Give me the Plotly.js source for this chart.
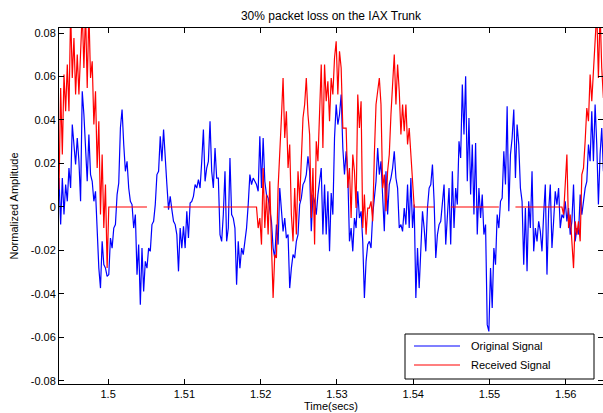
<!DOCTYPE html>
<html>
<head>
<meta charset="utf-8">
<script src="https://cdn.plot.ly/plotly-3.0.1.min.js"></script>
<style>html,body{margin:0;padding:0;background:#fff;}#chart{width:603px;height:413px;}</style>
</head>
<body>
<div id="chart"></div>
<script>
// ---- Data ----
const titleText = "30% packet loss on the IAX Trunk";
const xTitle = "Time(secs)";
const yTitle = "Normalized Amplitude";
const seriesNames = ["Original Signal", "Received Signal"];

// sampling grid of the traces (seconds)
const tStart = 1.49356;
const tStep = 0.0002176;

// Original signal samples
const original = [
  0.0133,-0.0081,0.0133,-0.0035,0.0103,0.0026,0.0179,0.0087,0.0379,0.0271,
  0.0195,0.0317,0.0210,0.0026,0.0532,0.0425,0.0287,0.0118,0.0333,0.0149,
  0.0118,0.0026,0.0072,-0.0097,-0.0281,-0.0373,-0.0158,-0.0265,-0.0281,-0.0319,
  -0.0311,-0.0143,-0.0189,-0.0097,-0.0081,0.0057,0.0110,0.0363,0.0448,0.0287,
  0.0164,0.0210,0.0087,0.0026,0.0011,-0.0097,
  -0.0035,-0.0311,-0.0173,-0.0449,-0.0189,-0.0388,-0.0250,-0.0281,-0.0189,-0.0204,
  -0.0081,-0.0066,0.0011,0.0149,0.0164,0.0325,0.0210,0.0356,0.0210,0.0103,
  -0.0012,0.0049,-0.0012,-0.0066,-0.0081,-0.0127,-0.0296,-0.0097,-0.0189,-0.0089,
  -0.0189,-0.0020,-0.0143,0.0018,0.0026,0.0049,0.0103,0.0087,0.0126,0.0087,
  0.0210,0.0356,0.0118,0.0179,0.0210,0.0394,0.0164,
  0.0087,0.0271,0.0133,0.0133,-0.0127,-0.0158,-0.0035,0.0164,-0.0158,-0.0097,
  0.0225,-0.0035,-0.0051,-0.0097,-0.0357,-0.0158,-0.0281,-0.0189,-0.0219,-0.0158,
  -0.0097,0.0011,0.0149,0.0103,0.0133,0.0118,0.0103,0.0072,0.0325,0.0087,
  0.0317,0.0118,0.0057,0.0041,-0.0005,-0.0066,-0.0189,-0.0235,-0.0081,-0.0173,
  0.0087,-0.0035,-0.0112,-0.0051,-0.0143,-0.0127,-0.0373,
  -0.0281,-0.0219,-0.0235,-0.0158,-0.0127,0.0011,0.0041,0.0103,0.0118,0.0149,
  0.0233,0.0164,-0.0112,0.0057,0.0026,-0.0035,0.0057,0.0133,0.0179,-0.0127,
  0.0103,-0.0127,0.0072,-0.0204,0.0064,-0.0035,0.0317,0.0471,0.0379,0.0425,
  0.0517,0.0271,0.0149,0.0256,0.0149,-0.0158,-0.0097,-0.0204,-0.0051,-0.0097,
  0.0072,-0.0051,-0.0020,-0.0158,-0.0418,-0.0250,-0.0173,
  -0.0158,-0.0189,-0.0035,0.0041,0.0118,0.0271,0.0149,0.0210,0.0057,-0.0112,
  0.0164,-0.0035,0.0103,0.0133,0.0179,0.0256,0.0133,0.0087,-0.0097,-0.0081,
  -0.0112,-0.0005,-0.0081,0.0103,-0.0097,0.0133,-0.0097,0.0011,-0.0418,-0.0189,
  -0.0373,-0.0189,-0.0020,-0.0097,-0.0204,-0.0005,0.0087,0.0103,0.0195,0.0026,
  -0.0235,-0.0127,-0.0081,-0.0066,0.0011,0.0103,-0.0173,
  -0.0035,0.0087,-0.0173,0.0164,-0.0097,0.0087,0.0011,0.0302,0.0225,0.0563,
  0.0333,0.0601,0.0118,0.0409,0.0057,0.0287,-0.0035,0.0294,-0.0127,0.0087,
  -0.0051,0.0057,-0.0127,-0.0081,-0.0541,-0.0572,-0.0281,-0.0464,-0.0189,-0.0265,
  -0.0035,-0.0097,0.0026,0.0041,0.0256,0.0103,0.0463,-0.0020,0.0241,0.0317,
  0.0448,0.0133,0.0379,0.0287,0.0087,0.0026,-0.0265,
  -0.0005,-0.0296,0.0026,-0.0097,0.0164,-0.0204,-0.0097,-0.0158,-0.0066,-0.0112,
  -0.0204,-0.0035,0.0103,-0.0311,-0.0020,0.0103,-0.0189,-0.0066,0.0072,0.0011,
  0.0087,-0.0097,-0.0035,-0.0051,0.0026,-0.0066,-0.0005,-0.0127,-0.0066,0.0103,
  -0.0158,-0.0097,-0.0127,0.0057,-0.0035,0.0026,0.0087,0.0118,0.0287,0.0210,
  0.0440,0.0210,0.0471,0.0287,0.0011,0.0241,0.0363,0.0164
];

// Received signal samples (null = no sample drawn)
const received = [
  0.0080,0.0547,0.0241,0.0609,0.0440,0.0655,0.0440,0.0900,0.0593,0.0777,
  0.0517,0.0701,0.0517,0.0777,0.0900,0.0639,0.0900,0.0547,0.0900,0.0593,
  0.0670,0.0379,0.0532,0.0179,0.0394,-0.0035,0.0241,-0.0097,0.0103,-0.0281,
  0,0,0,0,0,0,0,0,0,0, 0,0,0,0,0,0,0,0,0,0, 0,0,0,0,
  null,null,null,null,null,null,null,null,null,
  0,0,0,0,0,0,0,0,0,0, 0,0,0,0,0,0,0,0,0,0, 0,0,0,0,0,0,0,0,0,0,
  0,0,0,0,0,0,0,0,0,0, 0,0,0,0,0,0,0,0,0,0, 0,0,0,0,0,0,
  0,-0.0097,-0.0051,-0.0173,0.0179,-0.0097,0.0057,-0.0127,0.0118,-0.0173,
  -0.0418,-0.0219,-0.0235,0.0087,0.0287,0.0409,0.0593,0.0317,0.0440,0.0179,0.0287,
  -0.0035,-0.0158,0.0087,-0.0127,0.0164,0.0026,0.0241,0.0409,0.0471,0.0593,
  0.0425,0.0333,-0.0051,0.0179,-0.0173,0.0302,0.0210,0.0440,0.0655,0.0271,
  0.0655,0.0486,0.0578,0.0394,0.0593,0.0517,0.0685,0.0762,0.0517,0.0716,
  0.0639,0.0363,0.0363,0.0363,0.0087,0.0179,-0.0051,0.0241,0.0164,-0.0005,
  0.0517,0.0363,0.0486,-0.0097,0.0057,-0.0127,-0.0005,
  -0.0005,0.0026,-0.0066,0.0241,0.0471,0.0532,0.0593,0.0471,0.0087,0.0149,
  -0.0020,0.0164,0.0241,0.0425,0.0593,0.0701,0.0471,0.0655,0.0532,0.0333,
  0.0471,0.0348,0.0471,0.0287,0.0363,0.0225,0.0133,
  0,0,0,0,0,0,0,0,0,0, 0,0,0,
  null,null,null,null,null,null,null,null,null,
  0,0,0,0,0,0,0,0,0,0, 0,0,0,0,0,0,0,0,0,0, 0,0,0,0,0,0,0,0,0,0,
  null,null,null,null,null,null,null,null,null,
  0,0,0,0,0,0,0,0,0,0, 0,0,0,0,0,0,0,0,0,0, 0,0,0,0,0,0,0,0,0,
  -0.0035,0.0133,0.0241,-0.0097,-0.0035,-0.0158,-0.0281,-0.0066,-0.0127,-0.0066,
  -0.0158,0.0149,0.0179,0.0302,0.0455,0.0394,0.0609,0.0486,0.0655,0.0777,
  0.0900,0.0593,0.0900,0.0639,0.0501
];

// Axes
const xTickVals = [1.5, 1.51, 1.52, 1.53, 1.54, 1.55, 1.56];
const xTickText = ["1.5", "1.51", "1.52", "1.53", "1.54", "1.55", "1.56"];
const yTickVals = [-0.08, -0.06, -0.04, -0.02, 0, 0.02, 0.04, 0.06, 0.08];
const yTickText = ["-0.08", "-0.06", "-0.04", "-0.02", "0", "0.02", "0.04", "0.06", "0.08"];
const xRange = [1.49356, 1.56488];
const yRange = [-0.0814, 0.0823];

// ---- Layout helpers (pixel -> paper) ----
const W = 603, H = 413, ML = 59, MR = 0, MT = 28, MB = 29;
const PW = W - ML - MR, PH = H - MT - MB;
const px = v => (v - ML) / PW;
const py = v => (H - MB - v) / PH;

const colors = ["#0000ff", "#ff0000"];
const FONT = 'Arial, "Liberation Sans", Helvetica, sans-serif';

const traces = [
  {type: "scatter", mode: "lines", name: seriesNames[0], x0: tStart, dx: tStep, y: original,
   line: {color: colors[0], width: 1.2}, connectgaps: false, hoverinfo: "skip"},
  {type: "scatter", mode: "lines", name: seriesNames[1], x0: tStart, dx: tStep, y: received,
   line: {color: colors[1], width: 1.2}, connectgaps: false, hoverinfo: "skip"}
];

// legend drawn as a MATLAB-style box
const legBox = {x0: 405, x1: 594, y0: 334, y1: 379};
const legRows = [346, 365];
const shapes = [
  {type: "rect", xref: "paper", yref: "paper", x0: px(legBox.x0), x1: px(legBox.x1),
   y0: py(legBox.y1), y1: py(legBox.y0), line: {color: "#000", width: 1}, fillcolor: "#fff", layer: "above"}
];
const annotations = [];
seriesNames.forEach((n, i) => {
  shapes.push({type: "line", xref: "paper", yref: "paper", x0: px(414), x1: px(460),
    y0: py(legRows[i]), y1: py(legRows[i]), line: {color: colors[i], width: 1.2}, layer: "above"});
  annotations.push({xref: "paper", yref: "paper", x: px(469), y: py(legRows[i]), xanchor: "left", yanchor: "middle",
    text: n, showarrow: false, font: {family: FONT, size: 11, color: "#000"}});
});

const axisCommon = {
  ticks: "inside", ticklen: 5, tickwidth: 1, tickcolor: "#000",
  showline: true, linecolor: "#000", linewidth: 1, mirror: "ticks",
  showgrid: false, zeroline: false, automargin: false,
  tickfont: {family: FONT, size: 11, color: "#000"}
};

const layout = {
  width: W, height: H,
  margin: {l: ML, r: MR, t: MT, b: MB, pad: 0},
  paper_bgcolor: "#fff", plot_bgcolor: "#fff",
  font: {family: FONT, size: 11, color: "#000"},
  showlegend: false,
  title: {text: titleText, x: 0.5, xref: "paper", xanchor: "center", y: 1 - 16 / H, yref: "container", yanchor: "middle",
          font: {family: FONT, size: 12, color: "#000"}},
  xaxis: Object.assign({}, axisCommon, {range: xRange, tickmode: "array", tickvals: xTickVals, ticktext: xTickText,
          title: {text: xTitle, font: {family: FONT, size: 11, color: "#000"}, standoff: 2}}),
  yaxis: Object.assign({}, axisCommon, {range: yRange, tickmode: "array", tickvals: yTickVals, ticktext: yTickText,
          title: {text: yTitle, font: {family: FONT, size: 11, color: "#000"}, standoff: 9}}),
  shapes: shapes,
  annotations: annotations
};

Plotly.newPlot("chart", traces, layout, {staticPlot: true, displayModeBar: false});
</script>
</body>
</html>
